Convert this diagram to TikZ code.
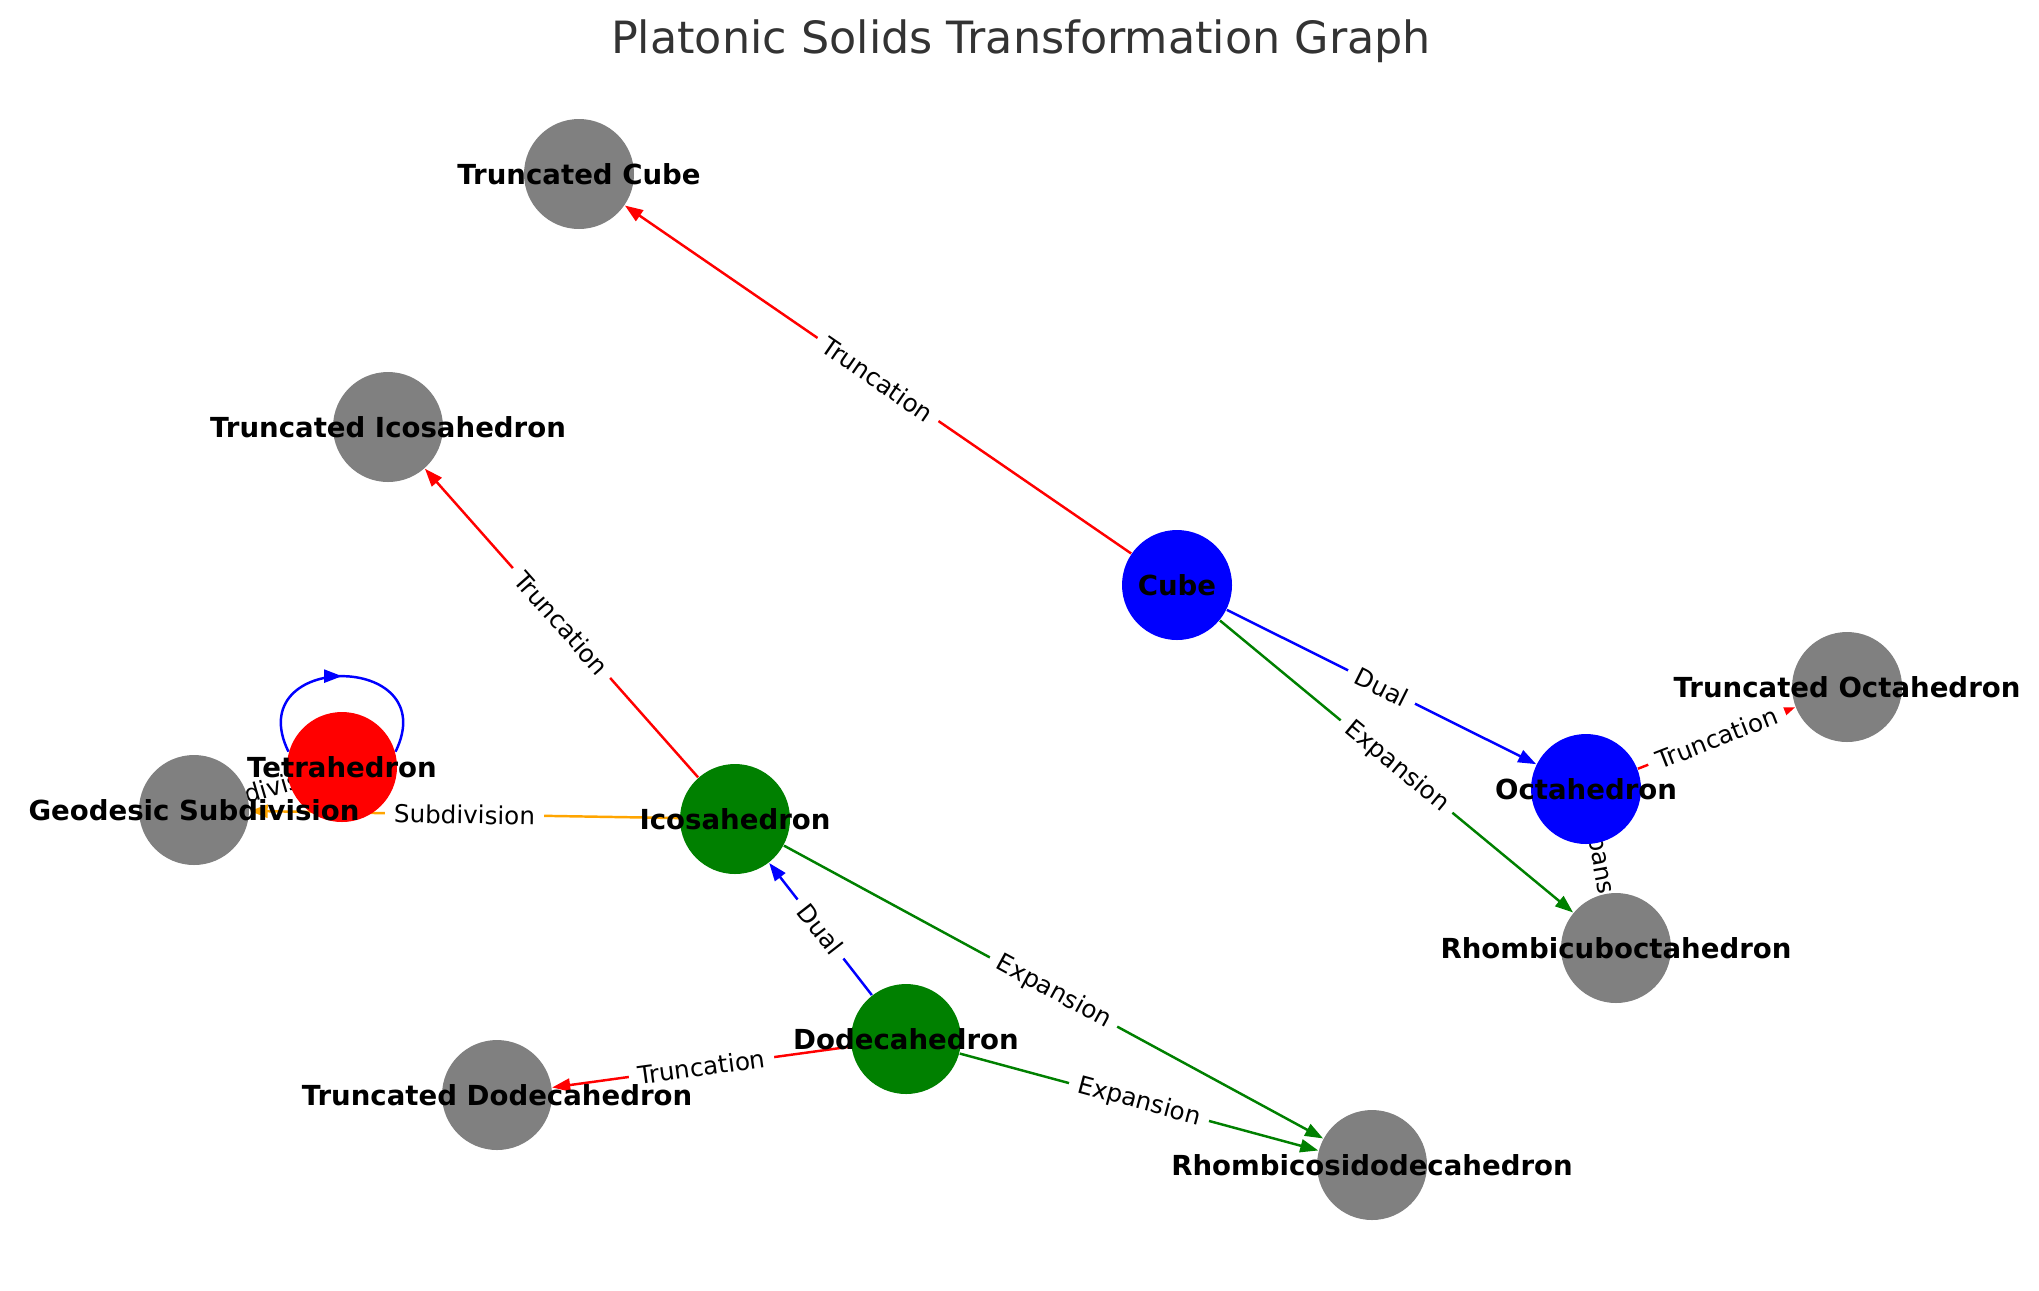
\documentclass[tikz,border=0pt]{standalone}
\usepackage{fontspec}
\setmainfont{DejaVu Sans}
\usetikzlibrary{arrows.meta,decorations.markings}
\pgfdeclarelayer{edges}
\pgfdeclarelayer{labels}
\pgfsetlayers{edges,main,labels}
\definecolor{titlegray}{HTML}{333333}
\definecolor{mplgreen}{HTML}{008000}
\definecolor{mplorange}{HTML}{FFA500}
\definecolor{mplgray}{HTML}{808080}

\begin{document}
\begin{tikzpicture}[
    solidnode/.style={circle, minimum size=1.1cm, inner sep=0pt, fill=#1},
    solidname/.style={font=\fontsize{7.85}{9}\selectfont\bfseries},
    rel/.style={draw=#1, line width=0.7pt, -{Triangle[length=0.18cm,width=0.13cm]}},
    edgetag/.style={font=\fontsize{7}{8}\selectfont, fill=white, inner xsep=0.09cm, inner ysep=0.04cm, sloped, pos=0.5}
]
    \useasboundingbox (0,0) rectangle (20.39,-12.90);
    \node[anchor=base, text=titlegray, font=\fontsize{12.65}{14}\selectfont] (title) at (10.21,-0.53) {Platonic Solids Transformation Graph};

    \node[solidnode=mplgray] (tcube) at (5.79,-1.74) {};
    \node[solidnode=mplgray] (ticosa) at (3.88,-4.27) {};
    \node[solidnode=blue] (cube) at (11.77,-5.85) {};
    \node[solidnode=red] (tetra) at (3.42,-7.67) {};
    \node[solidnode=mplgray] (geodesic) at (1.94,-8.10) {};
    \node[solidnode=mplgreen] (icosa) at (7.35,-8.19) {};
    \node[solidnode=blue] (octa) at (15.86,-7.89) {};
    \node[solidnode=mplgray] (tocta) at (18.47,-6.87) {};
    \node[solidnode=mplgray] (rcubo) at (16.16,-9.48) {};
    \node[solidnode=mplgreen] (dodeca) at (9.06,-10.39) {};
    \node[solidnode=mplgray] (tdodeca) at (4.97,-10.95) {};
    \node[solidnode=mplgray] (rcosi) at (13.72,-11.65) {};

    \begin{pgfonlayer}{edges}
    \draw[rel=red] (cube) -- node[edgetag] {Truncation} (tcube);
    \draw[rel=blue] (cube) -- node[edgetag] {Dual} (octa);
    \draw[rel=mplgreen] (cube) -- node[edgetag] {Expansion} (rcubo);
    \draw[rel=red] (octa) -- node[edgetag] {Truncation} (tocta);
    \draw[rel=mplgreen] (octa) -- node[edgetag] {Expansion} (rcubo);
    \draw[rel=red] (icosa) -- node[edgetag] {Truncation} (ticosa);
    \draw[rel=mplgreen] (icosa) -- node[edgetag] {Expansion} (rcosi);
    \draw[rel=mplorange] (icosa) -- node[edgetag] {Subdivision} (geodesic);
    \draw[rel=blue] (dodeca) -- node[edgetag] {Dual} (icosa);
    \draw[rel=red] (dodeca) -- node[edgetag] {Truncation} (tdodeca);
    \draw[rel=mplgreen] (dodeca) -- node[edgetag] {Expansion} (rcosi);
    \draw[rel=mplorange] (tetra) -- node[edgetag] {Subdivision} (geodesic);
    \draw[blue, line width=0.7pt, postaction={decorate}, decoration={markings, mark=at position 0.5 with {\arrow{Triangle[length=0.18cm,width=0.13cm]}}}]
        (tetra.164) .. controls +(116:1.12) and +(64:1.12) .. (tetra.16);
    \end{pgfonlayer}

    \begin{pgfonlayer}{labels}
    \node[solidname] at (tcube) {Truncated Cube};
    \node[solidname] at (ticosa) {Truncated Icosahedron};
    \node[solidname] at (cube) {Cube};
    \node[solidname] at (tetra) {Tetrahedron};
    \node[solidname] at (geodesic) {Geodesic Subdivision};
    \node[solidname] at (icosa) {Icosahedron};
    \node[solidname] at (octa) {Octahedron};
    \node[solidname] at (tocta) {Truncated Octahedron};
    \node[solidname] at (rcubo) {Rhombicuboctahedron};
    \node[solidname] at (dodeca) {Dodecahedron};
    \node[solidname] at (tdodeca) {Truncated Dodecahedron};
    \node[solidname] at (rcosi) {Rhombicosidodecahedron};
    \end{pgfonlayer}
\end{tikzpicture}
\end{document}
